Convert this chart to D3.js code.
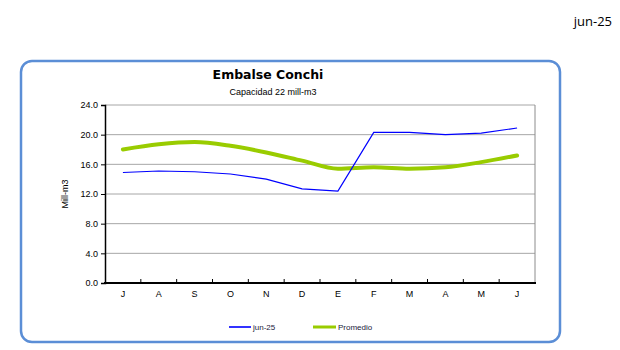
<!DOCTYPE html>
<html>
<head>
<meta charset="utf-8">
<script src="https://cdn.jsdelivr.net/npm/d3@7"></script>
<style>
  html, body { margin: 0; padding: 0; background: #fff; }
  svg { display: block; font-family: "Liberation Sans", Arial, sans-serif; }
</style>
</head>
<body>
<svg id="chart" width="620" height="350"></svg>
<script>
// Monthly volumes, July through June (mill-m3)
const months = ["J", "A", "S", "O", "N", "D", "E", "F", "M", "A", "M", "J"];
const actual = [14.9, 15.1, 15.0, 14.7, 14.0, 12.7, 12.4, 20.3, 20.3, 20.0, 20.2, 20.9];
const average = [18.0, 18.7, 19.0, 18.5, 17.6, 16.5, 15.4, 15.6, 15.4, 15.6, 16.3, 17.2];
const yTicks = [0, 4, 8, 12, 16, 20, 24];

const svg = d3.select("#chart");

// Date stamp, top right
svg.append("text")
  .attr("x", 612).attr("y", 26)
  .attr("text-anchor", "end")
  .attr("font-family", "'Open Sans', 'DejaVu Sans', sans-serif")
  .attr("font-size", 13)
  .attr("fill", "#000")
  .text("jun-25");

// Rounded frame around the chart
svg.append("rect")
  .attr("x", 21).attr("y", 61)
  .attr("width", 539).attr("height", 281)
  .attr("rx", 11).attr("ry", 11)
  .attr("fill", "#fff")
  .attr("stroke", "#5b8ed6")
  .attr("stroke-width", 2.5);

// Title and subtitle
svg.append("text")
  .attr("x", 268).attr("y", 79)
  .attr("text-anchor", "middle")
  .attr("font-family", "'DejaVu Sans', 'Open Sans', sans-serif")
  .attr("font-weight", "bold")
  .attr("font-size", 12.5)
  .text("Embalse Conchi");

svg.append("text")
  .attr("x", 273).attr("y", 95)
  .attr("text-anchor", "middle")
  .attr("font-size", 9)
  .text("Capacidad 22 mill-m3");

const plot = { left: 105, top: 105, right: 535, bottom: 283 };

const x = d3.scaleBand()
  .domain(d3.range(months.length))
  .range([plot.left, plot.right]);

const y = d3.scaleLinear()
  .domain([0, 24])
  .range([plot.bottom, plot.top]);

// Horizontal gridlines
svg.append("g")
  .selectAll("line")
  .data(yTicks.filter(t => t > 0))
  .join("line")
  .attr("x1", plot.left).attr("x2", plot.right)
  .attr("y1", d => y(d)).attr("y2", d => y(d))
  .attr("stroke", "#a6a6a6")
  .attr("stroke-width", 1);

// Right edge of plot area
svg.append("line")
  .attr("x1", plot.right).attr("x2", plot.right)
  .attr("y1", plot.top).attr("y2", plot.bottom)
  .attr("stroke", "#8c8c8c").attr("stroke-width", 1);

// Y axis
const yAxis = svg.append("g")
  .attr("transform", `translate(${plot.left},0)`)
  .call(d3.axisLeft(y).tickValues(yTicks).tickFormat(d3.format(".1f")).tickSize(4).tickPadding(3));
yAxis.select(".domain").attr("stroke", "#000").attr("stroke-width", 1.5);
yAxis.selectAll(".tick line").attr("stroke", "#000");
yAxis.selectAll("text").attr("font-size", 9).attr("fill", "#000")
  .attr("font-family", "'Liberation Sans', Arial, sans-serif");

// X axis: ticks at category boundaries pointing inward, labels centred in bands
const xAxisG = svg.append("g");
xAxisG.append("line")
  .attr("x1", plot.left - 1).attr("x2", plot.right + 1)
  .attr("y1", plot.bottom).attr("y2", plot.bottom)
  .attr("stroke", "#000").attr("stroke-width", 2);
xAxisG.selectAll("line.tk")
  .data(d3.range(1, months.length))
  .join("line")
  .attr("class", "tk")
  .attr("x1", d => x(d)).attr("x2", d => x(d))
  .attr("y1", plot.bottom).attr("y2", plot.bottom - 4)
  .attr("stroke", "#000").attr("stroke-width", 1);
xAxisG.selectAll("text")
  .data(months)
  .join("text")
  .attr("x", (d, i) => x(i) + x.bandwidth() / 2)
  .attr("y", plot.bottom + 14)
  .attr("text-anchor", "middle")
  .attr("font-size", 9)
  .text(d => d);

// Y axis title
svg.append("text")
  .attr("transform", `translate(68,${(plot.top + plot.bottom) / 2}) rotate(-90)`)
  .attr("text-anchor", "middle")
  .attr("font-size", 9)
  .text("Mill-m3");

const cx = i => x(i) + x.bandwidth() / 2;

// Average line (smoothed, thick green)
svg.append("path")
  .datum(average)
  .attr("fill", "none")
  .attr("stroke", "#99cc00")
  .attr("stroke-width", 4)
  .attr("stroke-linejoin", "round")
  .attr("stroke-linecap", "round")
  .attr("d", d3.line().x((d, i) => cx(i)).y(d => y(d)).curve(d3.curveMonotoneX));

// Current year line
svg.append("path")
  .datum(actual)
  .attr("fill", "none")
  .attr("stroke", "#0000ff")
  .attr("stroke-width", 1.2)
  .attr("d", d3.line().x((d, i) => cx(i)).y(d => y(d)));

// Legend
const legend = [
  { label: "jun-25", color: "#3333ff", width: 2, x1: 229, x2: 251 },
  { label: "Promedio", color: "#99cc00", width: 3, x1: 313, x2: 336 }
];
const lg = svg.append("g");
lg.selectAll("line")
  .data(legend)
  .join("line")
  .attr("x1", d => d.x1).attr("x2", d => d.x2)
  .attr("y1", 327).attr("y2", 327)
  .attr("stroke", d => d.color)
  .attr("stroke-width", d => d.width);
lg.selectAll("text")
  .data(legend)
  .join("text")
  .attr("x", d => d.x2 + 2)
  .attr("y", 330)
  .attr("font-size", 8)
  .attr("fill", "#1a1a3a")
  .text(d => d.label);
</script>
</body>
</html>
